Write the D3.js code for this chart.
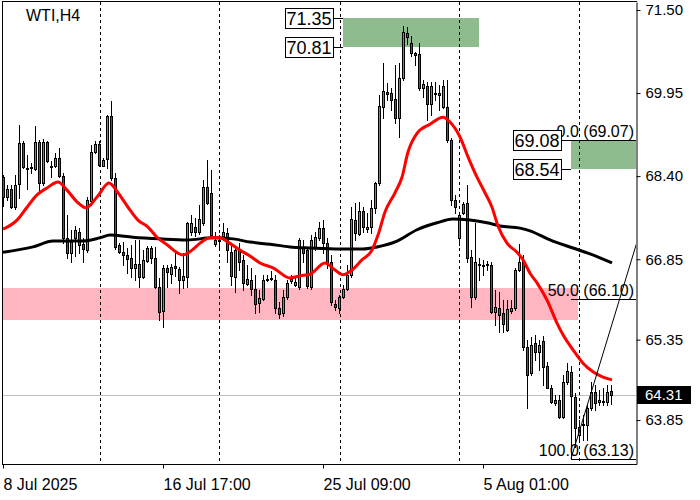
<!DOCTYPE html>
<html><head><meta charset="utf-8">
<script src="https://cdn.jsdelivr.net/npm/d3@7"></script>
<style>html,body{margin:0;padding:0;background:#fff;} svg{display:block;font-family:"Liberation Sans",Arial,sans-serif;}</style>
</head><body><svg id="c" width="700" height="500"></svg>
<script>
// ---------- DATA ----------
const title = "WTI,H4";
const open = [
68.38,68.01,68.16,67.82,68.25,69.02,68.55,68.55,68.53,69.04,
68.27,69.04,68.59,68.59,68.74,68.40,67.25,66.97,67.25,67.36,
67.13,67.02,67.94,68.85,69.00,68.59,68.72,69.52,68.37,67.12,
66.98,66.93,66.87,66.69,66.76,66.52,66.82,67.06,66.87,66.33,
65.88,66.69,66.57,66.72,66.67,66.46,66.52,67.36,67.45,67.36,
67.53,68.20,68.09,67.13,67.21,67.26,67.34,66.98,66.52,67.02,
66.84,66.39,66.46,66.29,66.03,66.11,66.48,66.50,66.46,65.94,
65.85,66.15,66.44,66.37,66.33,67.06,67.02,66.33,67.08,67.25,
67.43,67.15,66.80,66.01,65.94,66.15,66.29,66.56,67.58,67.32,
67.75,67.41,67.45,67.81,68.27,69.69,69.97,69.95,69.84,69.48,
70.23,71.07,70.88,70.70,70.68,70.04,70.08,69.75,69.95,69.95,
69.69,69.69,69.07,67.96,67.25,67.71,67.90,66.89,66.15,66.74,
66.74,66.76,66.74,65.87,65.94,65.85,65.53,65.88,65.94,66.65,
66.82,65.21,64.73,65.29,65.12,65.32,64.86,64.45,64.17,64.22,
63.91,64.56,64.75,64.28,63.57,63.78,63.76,64.07,64.37,64.19,
64.20,64.19,64.39];
const high = [
68.42,68.23,68.23,68.42,69.35,69.06,68.79,68.65,69.34,69.07,
69.09,69.06,68.68,68.83,68.93,68.46,67.68,67.40,67.47,67.43,
67.25,68.01,68.98,69.06,69.06,68.74,69.54,69.80,68.46,67.15,
67.17,67.06,67.12,67.21,67.21,67.02,67.10,67.10,67.08,66.50,
66.74,66.74,66.76,66.97,66.71,66.97,67.54,67.68,67.62,67.86,
68.33,68.70,68.51,67.36,67.30,67.53,67.43,67.12,67.08,67.15,
66.93,66.74,66.69,66.56,66.28,66.56,66.56,66.63,66.56,66.05,
66.28,66.46,66.56,66.50,67.25,67.21,67.06,67.30,67.36,67.54,
67.58,67.25,66.93,66.09,66.18,66.37,66.74,67.82,67.90,67.92,
67.82,67.71,67.96,68.29,69.91,70.51,70.14,70.04,70.47,70.51,
71.20,71.18,71.01,70.72,70.88,70.19,70.16,70.16,70.16,70.10,
70.19,70.19,69.11,68.05,67.71,67.92,68.23,67.02,67.53,66.87,
66.84,66.82,66.80,66.28,66.24,66.09,66.09,66.09,66.69,67.13,
66.93,65.34,65.40,65.44,65.34,65.42,64.93,64.50,64.32,64.32,
64.69,64.91,64.86,64.35,63.85,63.94,64.13,64.56,64.50,64.41,
64.45,64.50,64.50];
const low = [
67.84,67.96,67.81,67.79,67.99,68.55,68.16,68.46,68.51,68.09,
68.23,68.66,68.38,68.57,68.38,67.15,66.87,66.80,66.91,66.97,
66.80,66.98,67.86,68.83,68.59,68.59,68.55,68.33,67.04,66.97,
66.74,66.59,66.52,66.46,66.33,66.50,66.80,66.78,66.31,65.72,
65.59,66.33,66.41,66.54,66.22,66.31,66.33,67.30,67.28,67.32,
67.49,67.88,67.25,67.10,67.02,67.21,66.80,66.37,66.24,66.65,
66.28,66.37,66.18,65.85,65.87,66.09,66.44,66.46,65.85,65.75,
65.79,66.11,66.41,66.35,66.29,66.80,66.31,66.29,67.02,67.21,
66.97,66.69,66.00,65.90,65.85,66.13,66.28,66.52,67.21,67.30,
67.36,67.36,67.34,67.71,68.23,69.48,69.82,69.63,69.39,69.13,
70.19,70.87,70.64,70.47,70.01,69.88,69.45,69.54,69.82,69.63,
69.67,69.04,67.86,67.71,67.12,67.69,66.80,65.96,66.11,66.46,
66.56,66.65,65.85,65.62,65.49,65.49,65.51,65.85,65.90,66.63,
65.16,64.07,64.69,64.97,64.78,64.50,64.44,64.17,64.13,63.89,
63.89,64.52,63.13,63.35,63.48,63.48,63.48,64.04,64.04,64.13,
64.13,64.13,64.15];
const close = [
68.01,68.16,67.82,68.23,69.02,68.57,68.53,68.57,69.04,68.27,
69.04,68.68,68.57,68.74,68.40,67.25,66.97,67.17,67.40,67.12,
67.04,67.96,68.85,69.00,68.61,68.70,69.52,68.37,67.08,66.98,
66.93,66.85,66.69,66.76,66.52,66.84,67.06,66.87,66.33,65.87,
66.69,66.61,66.71,66.69,66.46,66.54,67.53,67.53,67.36,67.60,
68.20,67.90,67.30,67.21,67.19,67.36,67.02,66.54,67.02,66.80,
66.41,66.48,66.29,66.01,66.13,66.46,66.47,66.48,65.94,65.83,
66.15,66.41,66.48,66.43,67.21,66.97,66.35,67.21,67.26,67.43,
67.15,66.80,66.05,65.96,66.15,66.29,66.56,67.60,67.34,67.75,
67.45,67.45,67.81,68.27,69.71,69.99,69.93,69.82,69.48,70.23,
71.09,71.00,70.70,70.66,70.04,70.12,69.75,70.08,69.93,69.91,
70.08,69.07,67.96,67.82,67.68,67.88,66.87,66.15,66.80,66.76,
66.73,66.74,65.87,65.96,65.81,65.64,65.92,65.94,66.65,66.80,
65.21,64.69,65.25,65.12,65.25,64.84,64.45,64.19,64.22,63.91,
64.56,64.76,64.30,63.70,63.72,63.77,64.07,64.37,64.17,64.22,
64.21,64.37,64.31];

// moving averages (candle index, price)
const fastIdx = [0,3.5,6,8.5,11,13.75,16,18.5,20.75,23.5,26.5,28.75,31.25,33.75,36.25,38.5,41,45,47.25,49.25,51.75,54.25,56.25,59.25,61.75,64.25,67.5,71.75,74.25,76.75,80.5,83,85,87.25,89.75,92.25,93.75,95.5,98,99.75,101.25,103.5,106.75,110,111.75,114.25,116.25,118.5,120.5,122.25,123.75,126,128.5,130,131.75,133.5,136,138.5,140,142.5,145,147.5,150,152.25];
const fastVal = [67.41,67.58,67.82,68.05,68.18,68.29,68.14,67.92,67.81,68.01,68.27,68.09,67.82,67.58,67.45,67.26,67.12,66.93,67.02,67.15,67.25,67.25,67.17,67.02,66.91,66.78,66.69,66.50,66.54,66.57,66.78,66.65,66.56,66.65,66.84,67.02,67.30,67.73,68.09,68.38,68.85,69.20,69.37,69.50,69.41,69.13,68.76,68.38,68.09,67.82,67.47,67.15,66.98,66.84,66.59,66.41,66.09,65.66,65.44,65.16,64.91,64.75,64.65,64.60];
const slowIdx = [0,7.5,12.5,20,24.25,26.75,32.5,39.25,46,52.5,57.5,61.75,66.75,71.75,76.75,84.25,90,93.5,98.5,103.5,108.5,112.5,116.75,121,124.25,129.25,131.75,136.75,142.5,146.75,152.25];
const slowVal = [66.98,67.08,67.19,67.19,67.25,67.30,67.26,67.23,67.21,67.25,67.23,67.17,67.13,67.08,67.06,67.04,67.04,67.08,67.19,67.40,67.53,67.60,67.58,67.53,67.47,67.43,67.38,67.21,67.06,66.95,66.78];

const priceTicks = [71.50,69.95,68.40,66.85,65.35,63.85];
const timeTickIdx = [0,40,80,120];
const timeTickLabels = ["8 Jul 2025","16 Jul 17:00","25 Jul 09:00","5 Aug 01:00"];
const separatorIdx = [24.25,54,84.25,114,144];
const lastPrice = 64.31;

const zoneFromIdx = [85,142];
const zoneToIdx = [119,null];
const zoneTop = [71.35,69.08];
const zoneBottom = [70.81,68.54];

const pinkFromIdx = -0.25, pinkToIdx = 143.75, pinkTop = 66.31, pinkBottom = 65.72;

const fibLevels = [0.0,50.0,100.0];
const fibPrices = [69.07,66.10,63.13];
const fibStartIdx = 142;
const fibTrendIdx = [142,166.25];
const fibTrendPrice = [63.13,69.07];

// ---------- DRAW ----------
const svg = d3.select("#c");
const P = {l:2,t:2,r:636,b:464};
const x = d3.scaleLinear().domain([0,152]).range([3,611]);
const y = d3.scaleLinear().domain([63.03,71.649]).range([P.b,P.t]);
const font = '"Liberation Sans", Arial, sans-serif';

svg.append("rect").attr("width",700).attr("height",500).attr("fill","#fff");
svg.append("defs").append("clipPath").attr("id","clip")
  .append("rect").attr("x",P.l).attr("y",P.t).attr("width",P.r-P.l).attr("height",P.b-P.t);
const g = svg.append("g").attr("clip-path","url(#clip)");

// pink zone
g.append("rect").attr("x",Math.round(x(pinkFromIdx))).attr("y",Math.round(y(pinkTop)))
  .attr("width",Math.round(x(pinkToIdx))-Math.round(x(pinkFromIdx)))
  .attr("height",Math.round(y(pinkBottom))-Math.round(y(pinkTop))).attr("fill","#ffb6c1");

// green zones
zoneTop.forEach((t,k)=>{
  const x0 = Math.round(x(zoneFromIdx[k]));
  const x1 = zoneToIdx[k]==null ? P.r : Math.round(x(zoneToIdx[k]));
  g.append("rect").attr("x",x0).attr("y",Math.round(y(t)))
    .attr("width",x1-x0).attr("height",Math.round(y(zoneBottom[k]))-Math.round(y(t)))
    .attr("fill","#8fbc8f");
});

// separators
g.selectAll("line.sep").data(separatorIdx).join("line").attr("class","sep")
  .attr("x1",d=>Math.round(x(d))+0.5).attr("x2",d=>Math.round(x(d))+0.5)
  .attr("y1",P.t).attr("y2",P.b).attr("stroke","#000").attr("stroke-width",1)
  .attr("stroke-dasharray","3,3");

// last price line
g.append("line").attr("x1",P.l).attr("x2",P.r)
  .attr("y1",Math.round(y(lastPrice))+0.5).attr("y2",Math.round(y(lastPrice))+0.5)
  .attr("stroke","#c0c0c0").attr("stroke-width",1);

// candles
const idx = d3.range(open.length);
const cg = g.append("g");
idx.forEach(i=>{
  const cx = Math.round(x(i));
  const up = close[i] >= open[i];
  cg.append("line").attr("x1",cx+0.5).attr("x2",cx+0.5)
    .attr("y1",Math.round(y(high[i]))).attr("y2",Math.round(y(low[i]))+1)
    .attr("stroke","#000").attr("stroke-width",1);
  const yt = Math.round(y(Math.max(open[i],close[i])));
  const yb = Math.round(y(Math.min(open[i],close[i])));
  cg.append("rect").attr("x",cx-0.5).attr("y",yt+0.5)
    .attr("width",2).attr("height",Math.max(yb-yt,1))
    .attr("fill",up ? "#3cb43c" : "#e01e1e").attr("stroke","#000").attr("stroke-width",1);
});

// moving averages
const line = d3.line().x(d=>x(d[0])).y(d=>y(d[1])).curve(d3.curveMonotoneX);
g.append("path").datum(slowIdx.map((d,k)=>[d,slowVal[k]])).attr("d",line)
  .attr("fill","none").attr("stroke","#000").attr("stroke-width",3);
g.append("path").datum(fastIdx.map((d,k)=>[d,fastVal[k]])).attr("d",line)
  .attr("fill","none").attr("stroke","#ff0000").attr("stroke-width",3);

// fibonacci
g.append("line").attr("x1",x(fibTrendIdx[0])).attr("y1",y(fibTrendPrice[0]))
  .attr("x2",x(fibTrendIdx[1])).attr("y2",y(fibTrendPrice[1]))
  .attr("stroke","#000").attr("stroke-width",1);
fibLevels.forEach((lv,k)=>{
  const yy = Math.round(y(fibPrices[k]))+0.5;
  g.append("line").attr("x1",Math.round(x(fibStartIdx))).attr("x2",P.r)
    .attr("y1",yy).attr("y2",yy).attr("stroke","#000").attr("stroke-width",1);
  svg.append("text").attr("x",634).attr("y",yy-4).attr("text-anchor","end")
    .attr("font-family",font).attr("font-size",16).attr("fill","#000")
    .text(lv.toFixed(1)+" ("+fibPrices[k].toFixed(2)+")");
});

// zone label boxes
zoneTop.forEach((t,k)=>{
  const zx = Math.round(x(zoneFromIdx[k]));
  [t, zoneBottom[k]].forEach(p=>{
    const yy = Math.round(y(p))+0.5;
    const bx1 = zx-10;
    svg.append("line").attr("x1",bx1).attr("x2",zx).attr("y1",yy).attr("y2",yy)
      .attr("stroke","#000").attr("stroke-width",1);
    svg.append("rect").attr("x",bx1-48+0.5).attr("y",yy-10).attr("width",48).attr("height",20)
      .attr("fill","#fff").attr("stroke","#000").attr("stroke-width",1);
    svg.append("text").attr("x",bx1-24).attr("y",yy).attr("dy","0.36em")
      .attr("text-anchor","middle").attr("font-family",font).attr("font-size",18)
      .attr("fill","#000").text(p.toFixed(2));
  });
});

// frame
svg.append("line").attr("x1",P.l+0.5).attr("x2",P.l+0.5).attr("y1",P.t).attr("y2",P.b+1).attr("stroke","#000");
svg.append("line").attr("x1",P.l).attr("x2",P.r+1).attr("y1",P.t-0.5).attr("y2",P.t-0.5).attr("stroke","#000");
svg.append("line").attr("x1",P.l).attr("x2",P.r+1).attr("y1",P.b+0.5).attr("y2",P.b+0.5).attr("stroke","#000");

// right axis
const ya = svg.append("g").attr("transform",`translate(${P.r+0.5},0)`)
  .call(d3.axisRight(y).tickValues(priceTicks).tickSize(4).tickSizeOuter(0).tickPadding(5)
    .tickFormat(d3.format(".2f")));
ya.attr("font-family",font).attr("font-size",15);
ya.selectAll("text").attr("fill","#000");
ya.selectAll("line,path").attr("stroke","#000");

// bottom axis
const xa = svg.append("g").attr("transform",`translate(0,${P.b+0.5})`)
  .call(d3.axisBottom(x).tickValues(timeTickIdx).tickSize(4).tickSizeOuter(0)
    .tickFormat((d,k)=>timeTickLabels[k]));
xa.select(".domain").remove();
xa.attr("font-family",font).attr("font-size",16);
xa.selectAll("text").attr("text-anchor","start").attr("y",25).attr("dy",null).attr("fill","#000");
xa.selectAll("line").attr("stroke","#000");

// last price tag
const ly = Math.round(y(lastPrice));
svg.append("rect").attr("x",P.r+1).attr("y",ly-9).attr("width",54).attr("height",18).attr("fill","#000");
svg.append("text").attr("x",645).attr("y",ly).attr("dy","0.35em").attr("font-family",font)
  .attr("font-size",15).attr("fill","#fff").text(lastPrice.toFixed(2));

// title
svg.append("text").attr("x",26).attr("y",21).attr("font-family",font).attr("font-size",16)
  .attr("fill","#000").text(title);
</script></body></html>
